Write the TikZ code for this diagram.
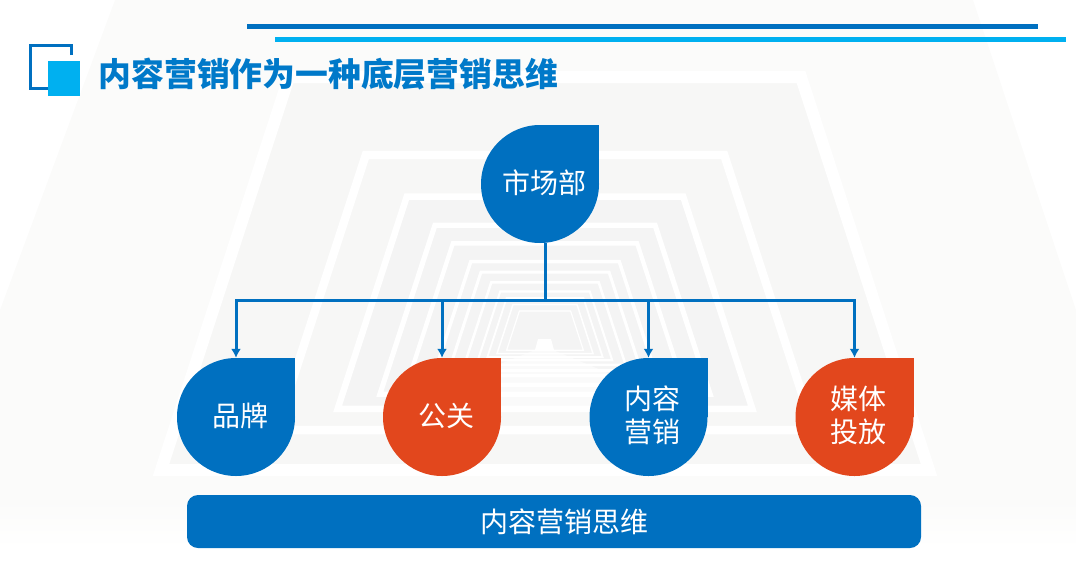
\documentclass[tikz,border=0pt]{standalone}
\usepackage{fontspec}
\setmainfont{Noto Sans CJK SC}
\usetikzlibrary{arrows.meta,calc}

\definecolor{mainblue}{HTML}{0070C0}
\definecolor{lightblue}{HTML}{00B0F0}
\definecolor{mainorange}{HTML}{E2471D}
\definecolor{titleblue}{HTML}{0079C9}
\definecolor{wallgray}{HTML}{FBFBFA}
\definecolor{framegray}{HTML}{F7F7F6}
\definecolor{deepgray}{HTML}{F4F4F4}

\tikzset{
  droptext/.style={text=white, align=center, font=\fontsize{28}{33}\selectfont},
  dropshape/.style={circle, inner sep=0pt, minimum size=118pt},
  branch/.style={mainblue, line width=3pt, -{Latex[length=9pt,width=10pt]}}
}

% name, colour, text
\newcommand{\teardrop}[3]{
  \fill[#2] (#1c) rectangle ++(59,-59);
  \node[dropshape, fill=#2, label={[droptext, xshift=4pt, yshift=1.5pt]center:#3}] (#1) at (#1c) {};
}

% scale, wall colour: one frame of the tunnel, centred on the far end
\newcommand{\tunnelframe}[2]{
  \filldraw[draw=white, fill=#2, line width={max(1.2,12*#1)*1pt}, line join=miter]
    ($(far)+(-256*#1,-260*#1)$) -- ($(far)+(256*#1,-260*#1)$)
    -- ($(far)+(384*#1,133*#1)$) -- ($(far)+(-384*#1,133*#1)$) -- cycle;
}

\begin{document}
\begin{tikzpicture}[x=1pt,y=-1pt]

\useasboundingbox (0,0) rectangle (1076,565);

% Background wall
\fill[wallgray] (115,0) -- (973,0) -- (1076,310) -- (1076,500) -- (0,500) -- (0,310) -- cycle;
\fill[top color=wallgray, bottom color=white] (0,500) rectangle (1076,548);

% Tunnel frames
\coordinate (far) at (545,337);
\tunnelframe{1}{framegray}
\tunnelframe{0.7}{framegray}
\tunnelframe{0.54}{deepgray}
\tunnelframe{0.43}{deepgray}
\tunnelframe{0.36}{deepgray}
\tunnelframe{0.29}{deepgray}
\tunnelframe{0.25}{deepgray}
\tunnelframe{0.21}{deepgray}
\tunnelframe{0.175}{deepgray}
\tunnelframe{0.15}{deepgray}
\tunnelframe{0.125}{deepgray}
\tunnelframe{0.1}{deepgray}

% Floor and far door
\fill[white, opacity=0.55] (535,350) -- (553,350) -- (625,380) -- (625,410) -- (460,410) -- (460,380) -- cycle;
\fill[white] (535,350) -- (538,339) -- (551,339) -- (554,350) -- cycle;

% Header rules
\fill[mainblue] (247,24) rectangle (1038,29);
\fill[lightblue] (275,37) rectangle (1066,42);

% Header icon
\draw[mainblue, line width=3pt] (71.5,55) -- (71.5,45.5) -- (30.5,45.5) -- (30.5,88) -- (48,88);
\fill[lightblue] (48,61) rectangle (80,96);

% Title
\node[anchor=west, inner sep=0pt, text=titleblue, font=\fontsize{32.8}{36}\bfseries\selectfont] (title) at (98.5,74) {内容营销作为一种底层营销思维};

% Drop centres
\coordinate (marketc) at (540,184);
\coordinate (brandc) at (236,417);
\coordinate (prc) at (442,417);
\coordinate (contentc) at (648.5,417);
\coordinate (mediac) at (854.5,417);

% Drops
\teardrop{market}{mainblue}{市场部}
\teardrop{brand}{mainblue}{品牌}
\teardrop{pr}{mainorange}{公关}
\teardrop{content}{mainblue}{内容\\营销}
\teardrop{media}{mainorange}{媒体\\投放}

% Connectors
\coordinate (bus) at (545,300);
\draw[mainblue, line width=3pt] (market.south -| bus) -- (bus);
\draw[branch] (bus) -| (brand.north);
\draw[branch] (bus) -| (pr.north);
\draw[branch] (bus) -| (content.north);
\draw[branch] (bus) -| (media.north);

% Bottom bar
\node[fill=mainblue, rounded corners=11pt, inner sep=0pt, minimum width=734pt, minimum height=53pt,
  label={[droptext, xshift=10.5pt]center:内容营销思维}] (bar) at (554,521.5) {};

\end{tikzpicture}
\end{document}
